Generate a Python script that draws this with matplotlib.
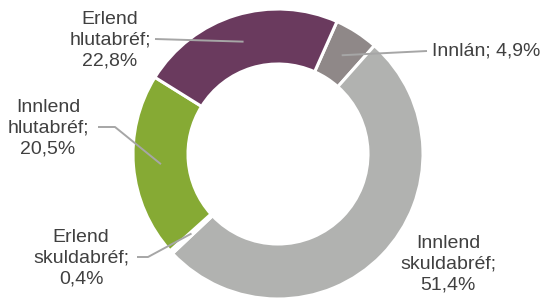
import numpy as np
import matplotlib
matplotlib.use("Agg")
import matplotlib.pyplot as plt

# Data
categories = ["Innlán", "Innlend\nskuldabréf", "Erlend\nskuldabréf", "Innlend\nhlutabréf", "Erlend\nhlutabréf"]
values = [4.9, 51.4, 0.4, 20.5, 22.8]
value_labels = ["4,9%", "51,4%", "0,4%", "20,5%", "22,8%"]
colors = ["#8F8888", "#B1B2B0", "#FFFFFF", "#86AA34", "#6A3A5E"]

W, H = 545, 298
fig = plt.figure(figsize=(W / 100, H / 100), dpi=100)
ax = fig.add_axes([0, 0, 1, 1])

cx, cy = 278, H - 154
R = 145
ring = 55

wedges, _ = ax.pie(values, colors=colors, startangle=66, counterclock=False,
                   center=(cx, cy), radius=R,
                   wedgeprops=dict(width=ring, edgecolor="white", linewidth=2.2),
                   frame=True)
ax.set_xlim(0, W)
ax.set_ylim(0, H)
ax.set_aspect("equal")
ax.axis("off")

txt_color = "#404040"
line_color = "#A6A6A6"
font = dict(family=["Liberation Sans", "DejaVu Sans"], size=14, color=txt_color)

def mid_point(w):
    ang = np.deg2rad((w.theta1 + w.theta2) / 2)
    r = R - ring / 2
    return cx + r * np.cos(ang), cy + r * np.sin(ang)

def py(y):
    return H - y

# label layout: (text x, text y (pixel from top), ha, leader path points in pixel coords)
layout = [
    (432, 51, "left", [(427, 51)]),
    (448, 264, "center", None),
    (81, 258, "center", [(137, 257), (148, 257)]),
    (48, 128, "center", [(98, 127), (115, 127)]),
    (110, 40, "center", [(155, 39)]),
]

for w, cat, vl, (tx, ty, ha, path) in zip(wedges, categories, value_labels, layout):
    if cat == "Innlán":
        label = f"{cat}; {vl}"
    else:
        label = f"{cat};\n{vl}"
    ax.text(tx, py(ty), label, ha=ha, va="center", multialignment="center",
            linespacing=1.27, **font)
    if path is not None:
        mx, my = mid_point(w)
        xs = [p[0] for p in path] + [mx]
        ys = [py(p[1]) for p in path] + [my]
        ax.plot(xs, ys, color=line_color, lw=1.4, solid_capstyle="butt")

fig.savefig("out.png", dpi=100)
